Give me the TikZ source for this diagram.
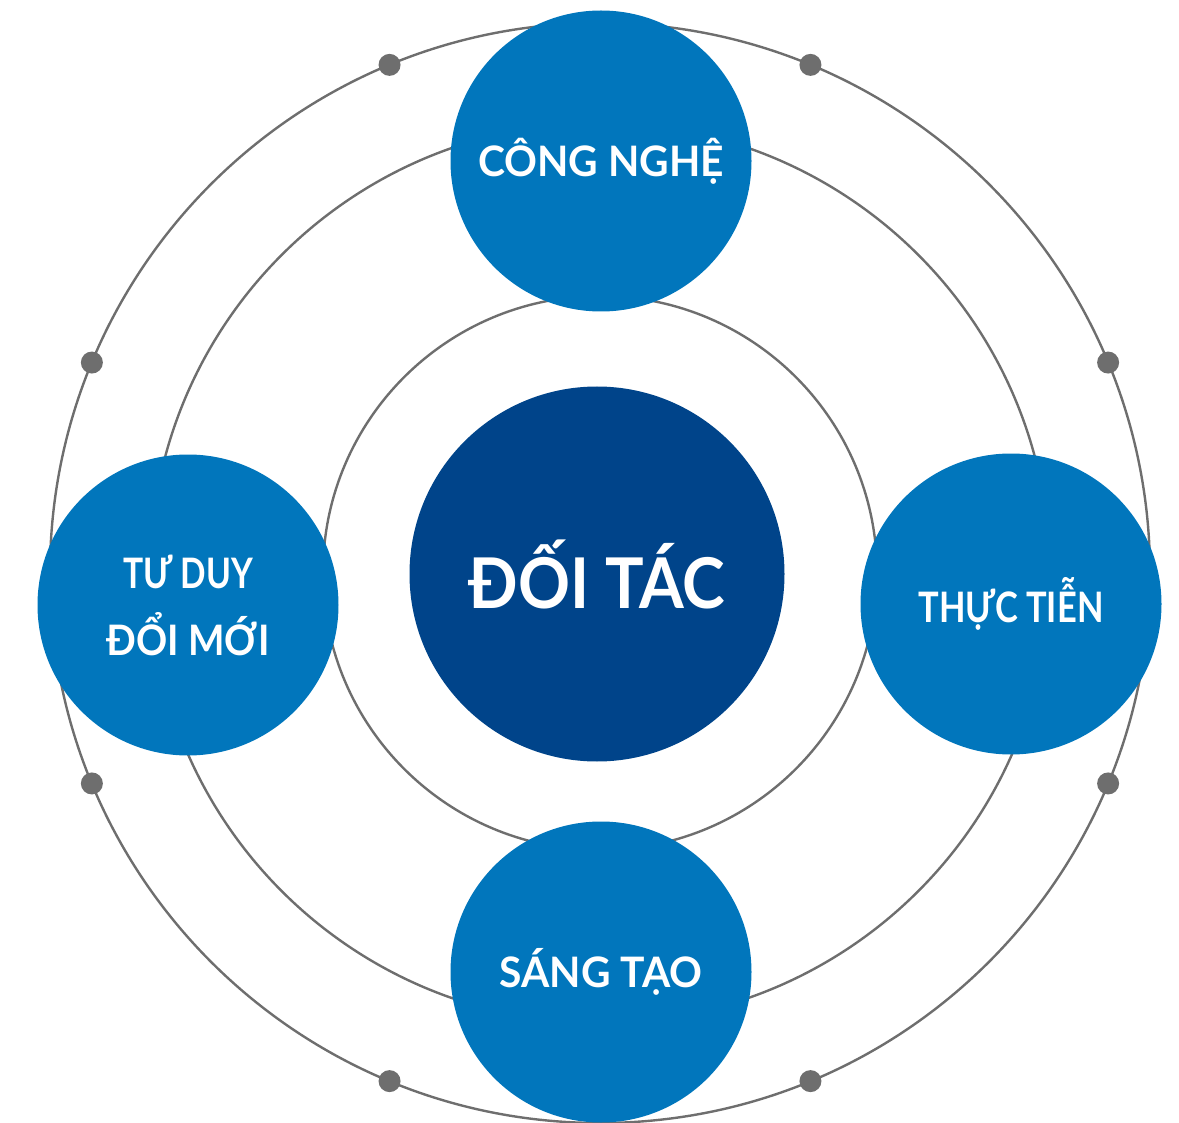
\documentclass[tikz,border=0pt]{standalone}
\usepackage{fontspec}
\usepackage{graphicx}
\setmainfont{Lato}
\usetikzlibrary{calc}
\definecolor{satblue}{HTML}{0176BC}
\definecolor{coreblue}{HTML}{00448A}
\definecolor{ringgray}{HTML}{6E6E6E}
\newcommand{\sqz}[2]{\scalebox{#1}[1]{#2}}
\begin{document}
\begin{tikzpicture}[x=1pt,y=-1pt,
  ring/.style={draw=ringgray,line width=2.4pt,circle,inner sep=0pt,fill=none},
  sat/.style={circle,fill=satblue,minimum size=301pt,inner sep=0pt,text=white,font=\fontsize{42}{67}\selectfont\bfseries,align=center},
  core/.style={circle,fill=coreblue,minimum size=375pt,inner sep=0pt,text=white,font=\fontsize{70}{80}\selectfont\bfseries},
  dot/.style={circle,fill=ringgray,minimum size=22pt,inner sep=0pt}]
\useasboundingbox (0,0) rectangle (1179,1123);
\coordinate (c) at (600,573);
\node[ring,minimum size=554pt] (r1) at (c) {};
\node[ring,minimum size=900pt] (r2) at (c) {};
\node[ring,minimum size=1100pt] (r3) at (c) {};
\foreach \a/\n in {22.5/d1,67.5/d2,112.5/d3,157.5/d4,202.5/d5,247.5/d6,292.5/d7,337.5/d8}
  \node[dot] (\n) at ($(c)+(\a:550pt)$) {};
\node[core] (core) at (597,574) {\sqz{0.92}{ĐỐI TÁC}};
\node[sat] (top) at (601,161) {\sqz{0.97}{CÔNG NGHỆ}};
\node[sat] (left) at (188,605) {\sqz{0.80}{TƯ DUY}\\\sqz{0.92}{ĐỔI MỚI}};
\node[sat] (right) at (1011,604) {\sqz{0.82}{THỰC TIỄN}};
\node[sat] (bottom) at (601,972) {\sqz{0.97}{SÁNG TẠO}};
\end{tikzpicture}
\end{document}
